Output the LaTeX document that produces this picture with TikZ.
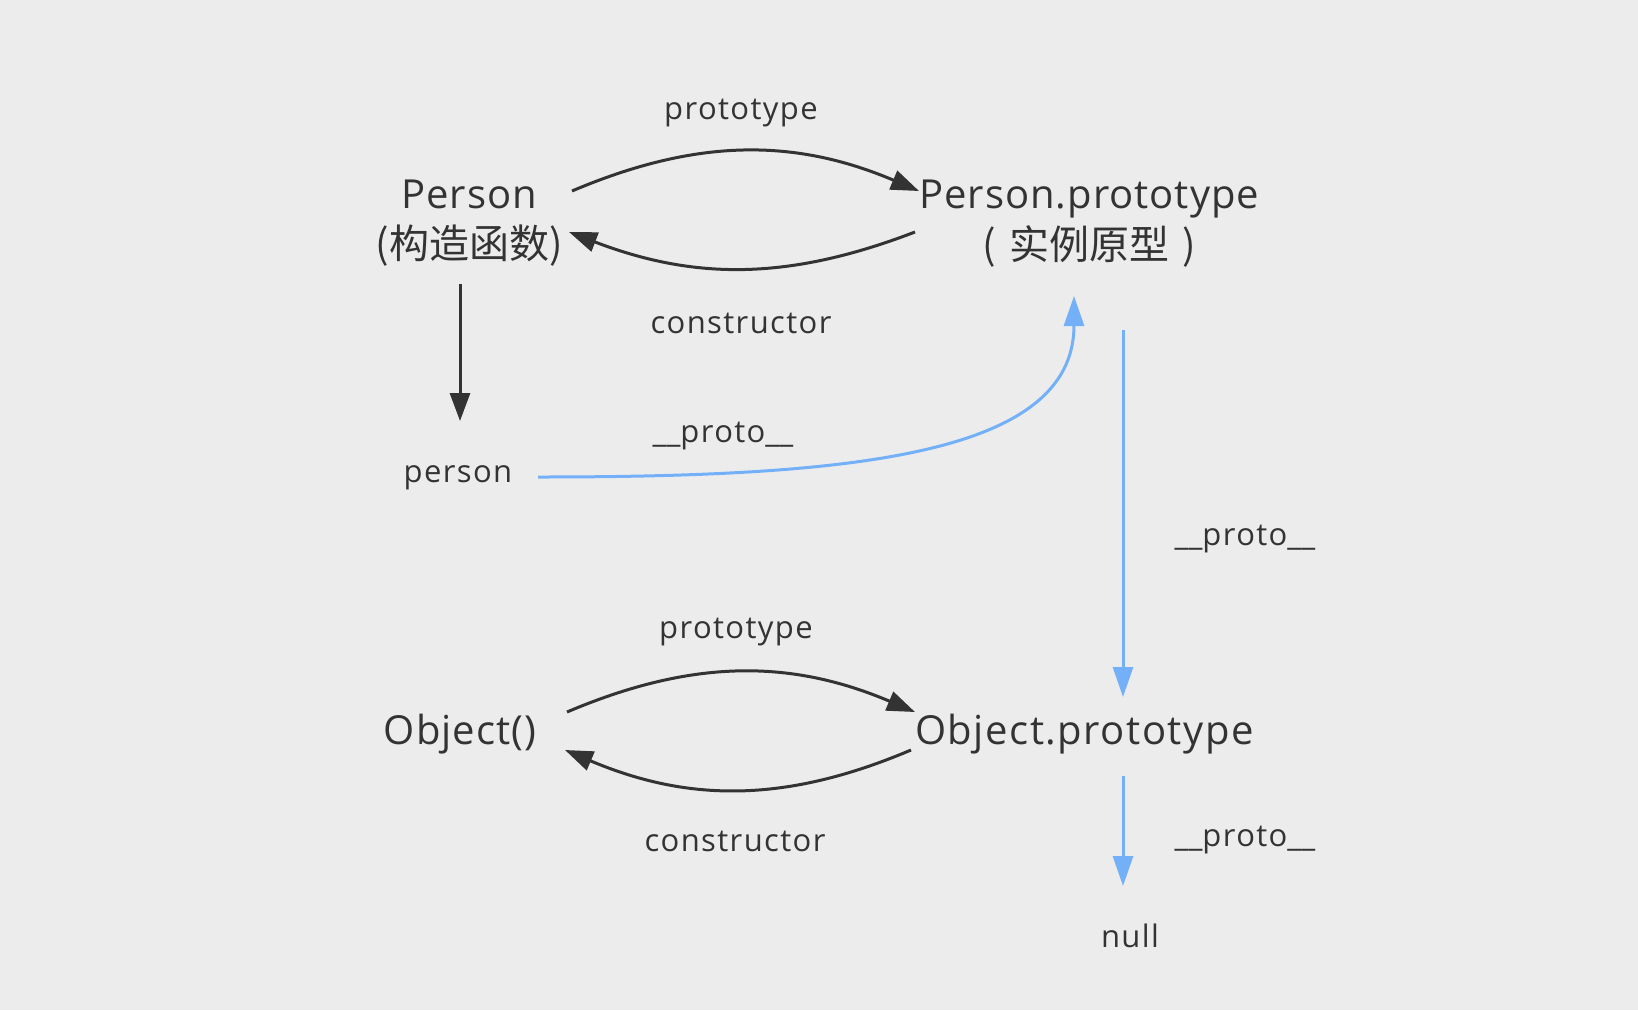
\documentclass[tikz,border=0pt]{standalone}
\usepackage{fontspec}
\setmainfont{Open Sans}
\newfontfamily\plainfont{Open Sans}
\newfontfamily\bigfont[LetterSpace=2.5]{Open Sans}
\newfontfamily\widefont[LetterSpace=3.8]{Open Sans}
\newfontfamily\smallfont[LetterSpace=4.5]{Open Sans}
\newfontfamily\cjk{Noto Sans CJK SC}
\newcommand\dunder{{\plainfont\_\_}}
\usetikzlibrary{arrows.meta,calc}
\definecolor{bg}{HTML}{ECECEC}
\definecolor{ink}{HTML}{333333}
\definecolor{link}{HTML}{73B0F8}
\begin{document}
\begin{tikzpicture}[x=1pt,y=-1pt,
  big/.style={font=\bigfont\fontsize{40}{48}\selectfont, text=ink, inner sep=0pt},
  wide/.style={big, font=\widefont\fontsize{40}{48}\selectfont},
  small/.style={font=\smallfont\fontsize{31}{37}\selectfont, text=ink, inner sep=0pt},
  cn/.style={font=\cjk\fontsize{40}{48}\selectfont, text=ink, inner sep=0pt},
  darrow/.style={draw=ink, line width=3pt, -{Triangle[length=28pt,width=20pt]}},
  barrow/.style={draw=link, line width=3pt, -{Triangle[length=30pt,width=20pt]}}]
\fill[bg] (0,0) rectangle (1638,1010);
\useasboundingbox (0,0) rectangle (1638,1010);

% constructors and prototypes
\node[big] (pc) at (469,194) {Person};
\node[cn]  (pccn) at (469,246) {(构造函数)};
\node[big, anchor=west] (pp) at (919,199) {Person.prototype};
\node[cn]  (ppcn) at (1089,246) {(\hspace{13pt}实例原型\hspace{13pt})};
\node[small] (inst) at (458,478) {person};
\node[big] (oc) at (460,734) {Object()};
\node[wide, anchor=west] (op) at (915,734) {Object.prototype};
\node[small] (nul) at (1130,936) {null};

% edge labels
\node[small] (l1) at (741,113) {prototype};
\node[small] (l2) at (741,323) {constructor};
\node[small] (l3) at (723,436) {\dunder proto\dunder};
\node[small] (l4) at (1245,539) {\dunder proto\dunder};
\node[small] (l5) at (736,632) {prototype};
\node[small] (l6) at (735,841) {constructor};
\node[small] (l7) at (1245,840) {\dunder proto\dunder};

% Person <-> Person.prototype
\draw[darrow] ($(pc)+(103,-3)$) to[bend left=23] ($(pp.west)+(0,-8)$);
\draw[darrow] ($(pp.west)+(-4,33)$) to[bend left=21] ($(pc)+(100,38)$);
\draw[darrow] ($(pc)+(-9,90)$) -- ($(inst)+(2,-57)$);

% person.__proto__
\draw[barrow] ($(inst)+(80,-1)$) .. controls ($(inst)+(392,-1)$) and ($(ppcn)+(-15,210)$) .. ($(ppcn)+(-15,50)$);

% Object() <-> Object.prototype
\draw[darrow] ($(oc)+(107,-22)$) to[bend left=23] ($(op.west)+(0,-22)$);
\draw[darrow] ($(op.west)+(-4,16)$) to[bend left=23] ($(oc)+(105,16)$);

% prototype chain
\draw[barrow] ($(ppcn)+(34,84)$) -- ($(op.west)+(208,-37)$);
\draw[barrow] ($(op.west)+(208,42)$) -- ($(nul)+(-7,-50)$);
\end{tikzpicture}
\end{document}
